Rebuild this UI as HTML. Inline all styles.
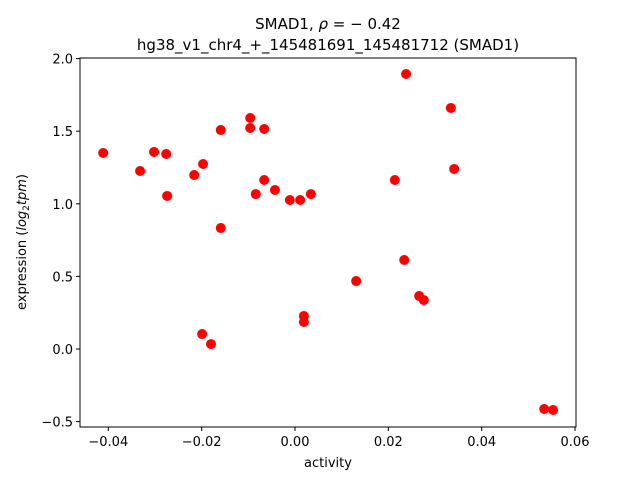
<!DOCTYPE html>
<html><head><meta charset="utf-8"><style>
body{margin:0;background:#fff;}
svg{display:block;font-family:"DejaVu Sans","Liberation Sans",sans-serif;}
</style></head><body>
<svg id="chart" width="640" height="480" viewBox="0 0 640 480" xmlns="http://www.w3.org/2000/svg">
<rect width="640" height="480" fill="#fff"/>
<text x="328" y="29" font-size="15" text-anchor="middle">SMAD1, <tspan font-style="italic">ρ</tspan> = − 0.42</text>
<text x="328" y="50" font-size="15" text-anchor="middle">hg38_v1_chr4_+_145481691_145481712 (SMAD1)</text>
<g id="plot"></g>
<rect x="80" y="58" width="496" height="369" fill="none" stroke="#000" stroke-width="1"/>
<text x="328" y="467" font-size="13" text-anchor="middle">activity</text>
<text transform="translate(26,242) rotate(-90)" font-size="13" text-anchor="middle">expression (<tspan font-style="italic">log</tspan><tspan font-size="9" dy="3">2</tspan><tspan dy="-3" font-style="italic">tpm</tspan>)</text>
</svg>
<script>
const xValues = [-0.0411,-0.0332,-0.0302,-0.0276,-0.0274,-0.0216,-0.0197,-0.0199,-0.018,-0.0159,-0.0159,-0.0096,-0.0096,-0.0066,-0.0084,-0.0066,-0.0043,-0.0011,0.0011,0.0034,0.0019,0.0019,0.0131,0.0214,0.0238,0.0234,0.0266,0.0276,0.0334,0.0341,0.0534,0.0553];
const yValues = [1.35,1.226,1.357,1.343,1.054,1.198,1.274,0.103,0.034,1.508,0.833,1.591,1.522,1.515,1.067,1.164,1.095,1.026,1.026,1.067,0.227,0.186,0.468,1.164,1.894,0.613,0.365,0.337,1.66,1.24,-0.413,-0.42];
const xTicks = [-0.04,-0.02,0.00,0.02,0.04,0.06];
const xTickLabels = ["−0.04","−0.02","0.00","0.02","0.04","0.06"];
const yTicks = [-0.5,0.0,0.5,1.0,1.5,2.0];
const yTickLabels = ["−0.5","0.0","0.5","1.0","1.5","2.0"];
function sx(v){return 295 + v*4667;}
function sy(v){return 349 - v*145.2;}
const NS="http://www.w3.org/2000/svg";
const g=document.getElementById('plot');
function mk(t,a){const e=document.createElementNS(NS,t);for(const k in a)e.setAttribute(k,a[k]);g.appendChild(e);return e;}
xTicks.forEach((t,i)=>{
  const l=mk('line',{x1:sx(t),x2:sx(t),y1:427,y2:431,stroke:'#000'});
  
  
  const tx=mk('text',{x:sx(t),y:446,'font-size':13,'text-anchor':'middle'});
  tx.textContent=xTickLabels[i];
  
  
});
yTicks.forEach((t,i)=>{
  const l=mk('line',{x1:76,x2:80,y1:sy(t),y2:sy(t),stroke:'#000'});
  
  
  const tx=mk('text',{x:73,y:sy(t)+5,'font-size':13,'text-anchor':'end'});
  tx.textContent=yTickLabels[i];
  
  
});
xValues.forEach((x,i)=>{
  const c=mk('circle',{cx:sx(x),cy:sy(yValues[i]),r:5,fill:'#ff0000'});
  
  
});
</script>
</body></html>
